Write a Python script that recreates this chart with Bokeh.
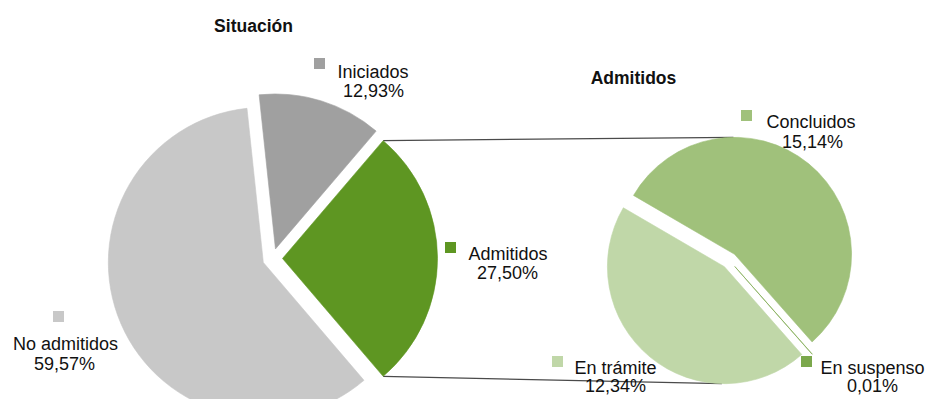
import math
from bokeh.plotting import figure
from bokeh.models import Range1d, ColumnDataSource
from bokeh.core.properties import value
from bokeh.embed import file_html
from bokeh.resources import INLINE

# ---------------- data ----------------
sit_title = "Situación"
sit_labels = ["Admitidos", "Iniciados", "No admitidos"]
sit_values = [27.50, 12.93, 59.57]
sit_colors = ["#5E9622", "#A0A0A0", "#C8C8C8"]

adm_title = "Admitidos"
adm_labels = ["Concluidos", "En trámite", "En suspenso"]
adm_values = [15.14, 12.34, 0.01]
adm_colors = ["#A0C17B", "#C0D7A8", "#7BA84C"]

# ---------------- layout (reference pixel space) ----------------
FONT = "Liberation Sans"
W, H = 928, 399
def Y(py):
    return H - py

L_CX, L_CY, L_R, L_EXP = 272, 258, 155, 10
R_CX, R_CY, R_R, R_EXP = 729, 260, 117, 8
R_START = -48.5

# label layout: square centre, name anchor (x, baseline, align), value centre (x, baseline)
label_layout = {
    "Iniciados":    dict(sq=(319, 63),  name=(337, 71, "left"),   val=(373, 90)),
    "Admitidos":    dict(sq=(450, 247), name=(468, 253, "left"),  val=(507, 272)),
    "No admitidos": dict(sq=(58, 316),  name=(65, 343, "center"), val=(64, 363)),
    "Concluidos":   dict(sq=(746, 115), name=(766, 121, "left"),  val=(812, 141)),
    "En trámite":   dict(sq=(557, 361), name=(574, 367, "left"),  val=(615, 385)),
    "En suspenso":  dict(sq=(806, 361), name=(820, 367, "left"),  val=(872, 385)),
}

p = figure(width=W, height=H, x_range=Range1d(0, W), y_range=Range1d(0, H),
           output_backend="svg", toolbar_location=None, min_border=0,
           x_axis_type=None, y_axis_type=None)
p.outline_line_color = None
p.grid.visible = False
p.background_fill_color = "white"
p.border_fill_color = "white"


def pie_slices(values, start_deg, cx, cy, r, exp):
    total = sum(values)
    out = []
    a = math.radians(start_deg)
    for v in values:
        sweep = v / total * 2 * math.pi
        mid = a + sweep / 2
        out.append(dict(x=cx + exp * math.cos(mid), y=Y(cy) + exp * math.sin(mid),
                        start=a, end=a + sweep, r=r))
        a += sweep
    return out

left = pie_slices(sit_values, -sit_values[0] / sum(sit_values) * 180, L_CX, L_CY, L_R, L_EXP)
right = pie_slices(adm_values, R_START, R_CX, R_CY, R_R, R_EXP)

# ---------------- connector lines (tangent lines, drawn under the pies) ----------------
def tangent(px, py, cx, cy, r, upper):
    dx, dy = px - cx, py - cy
    d = math.hypot(dx, dy)
    ang = math.atan2(dy, dx)
    alpha = math.acos(r / d)
    phi = ang - alpha if upper else ang + alpha
    return cx + r * math.cos(phi), cy + r * math.sin(phi)

sa = left[0]
top_p = (sa["x"] + sa["r"] * math.cos(sa["end"]), sa["y"] + sa["r"] * math.sin(sa["end"]))
bot_p = (sa["x"] + sa["r"] * math.cos(sa["start"]), sa["y"] + sa["r"] * math.sin(sa["start"]))
tc = right[0]
bc = right[1]
top_q = tangent(top_p[0], top_p[1], tc["x"], tc["y"], tc["r"], True)
bot_q = tangent(bot_p[0], bot_p[1], bc["x"], bc["y"], bc["r"], False)
p.segment(x0=[top_p[0], bot_p[0]], y0=[top_p[1], bot_p[1]],
          x1=[top_q[0], bot_q[0]], y1=[top_q[1], bot_q[1]],
          line_color="#4a4a4a", line_width=1.2)

# ---------------- wedges ----------------
for slices, colors, labels in ((left, sit_colors, sit_labels), (right, adm_colors, adm_labels)):
    src = ColumnDataSource(dict(
        x=[s["x"] for s in slices], y=[s["y"] for s in slices],
        r=[s["r"] for s in slices], start=[s["start"] for s in slices],
        end=[s["end"] for s in slices], color=colors, label=labels))
    p.wedge(x="x", y="y", radius="r", start_angle="start", end_angle="end",
            direction="anticlock", fill_color="color", line_color="color",
            line_width=0.6, source=src)

# ---------------- labels ----------------
def pct(v):
    return f"{v:.2f}".replace(".", ",") + "%"

all_labels = sit_labels + adm_labels
all_values = sit_values + adm_values
all_colors = sit_colors + adm_colors

sq_x, sq_y, sq_c = [], [], []
for lab, val, col in zip(all_labels, all_values, all_colors):
    lay = label_layout[lab]
    sq_x.append(lay["sq"][0]); sq_y.append(Y(lay["sq"][1])); sq_c.append(col)
    nx, nb, al = lay["name"]
    p.text(x=[nx], y=[Y(nb)], text=[lab], text_font=value(FONT), text_font_size="18px",
           text_align=al, text_baseline="alphabetic", text_color="#111111")
    vx, vb = lay["val"]
    p.text(x=[vx], y=[Y(vb)], text=[pct(val)], text_font=value(FONT), text_font_size="18px",
           text_align="center", text_baseline="alphabetic", text_color="#111111")

p.scatter(x=sq_x, y=sq_y, marker="square", size=11, fill_color=sq_c, line_color=None)

# ---------------- titles ----------------
p.text(x=[253], y=[Y(25)], text=[sit_title], text_font=value(FONT), text_font_size="17.5px",
       text_font_style="bold", text_align="center", text_baseline="alphabetic", text_color="#111111")
p.text(x=[633], y=[Y(77)], text=[adm_title], text_font=value(FONT), text_font_size="17.5px",
       text_font_style="bold", text_align="center", text_baseline="alphabetic", text_color="#111111")

open("out.html", "w").write(file_html(p, INLINE))
